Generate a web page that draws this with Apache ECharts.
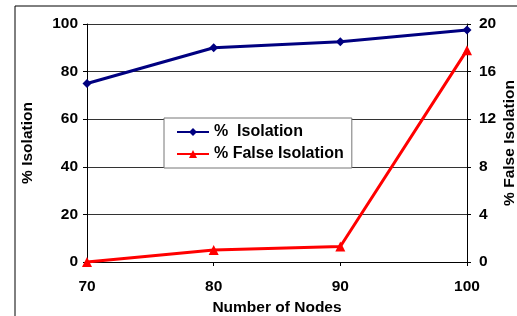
<!DOCTYPE html>
<html>
<head>
<meta charset="utf-8">
<script src="https://cdn.jsdelivr.net/npm/echarts@6/dist/echarts.min.js"></script>
<style>
  html, body { margin: 0; padding: 0; background: #fff; }
  #chart { width: 517px; height: 316px; }
</style>
</head>
<body>
<div id="chart"></div>
<script>
// data
var nodes = [70, 80, 90, 100];
var isolation = [75, 90, 92.5, 97.5];
var falseIsolation = [0, 1, 1.3, 17.8];

var myChart = echarts.init(document.getElementById('chart'));

var font = { fontFamily: 'Liberation Sans, Arial, sans-serif', fontWeight: 'bold', fontSize: 15.5, color: '#000' };

function pairs(xs, ys) {
  return xs.map(function (x, i) { return [x, ys[i]]; });
}

option = {
  backgroundColor: '#fff',
  animation: false,
  graphic: [
    // outer frame (only left and top edges show in the picture)
    { type: 'rect', shape: { x: 15, y: 6, width: 600, height: 400 },
      style: { fill: 'none', stroke: '#000', lineWidth: 1 } }
  ],
  grid: { left: 87, right: 50, top: 24, bottom: 54, outerBoundsMode: 'none' },
  legend: {
    orient: 'vertical',
    left: 164,
    top: 118,
    padding: [6, 8, 6, 12],
    itemGap: 6,
    itemWidth: 32,
    itemHeight: 10,
    backgroundColor: '#fff',
    borderColor: '#777',
    borderWidth: 1,
    textStyle: Object.assign({}, font, { fontSize: 16 }),
    data: ['%  Isolation', '% False Isolation']
  },
  xAxis: {
    type: 'value',
    min: 70,
    max: 100,
    interval: 10,
    name: 'Number of Nodes',
    nameLocation: 'middle',
    nameGap: 38,
    nameTextStyle: font,
    axisLine: { lineStyle: { color: '#000' } },
    axisTick: { show: true, length: 4, lineStyle: { color: '#000' } },
    axisLabel: Object.assign({ margin: 17 }, font),
    splitLine: { show: false }
  },
  yAxis: [
    {
      type: 'value',
      min: 0,
      max: 100,
      interval: 20,
      name: '% Isolation',
      nameLocation: 'middle',
      nameGap: 51,
      nameTextStyle: font,
      axisLine: { show: true, lineStyle: { color: '#000' } },
      axisTick: { show: true, length: 4, lineStyle: { color: '#000' } },
      axisLabel: Object.assign({ margin: 9 }, font),
      splitLine: { show: true, lineStyle: { color: '#333', width: 1 } }
    },
    {
      type: 'value',
      min: 0,
      max: 20,
      interval: 4,
      name: '% False Isolation',
      nameLocation: 'middle',
      nameGap: 35,
      nameRotate: 90,
      nameMoveOverlap: false,
      nameTextStyle: font,
      axisLine: { show: true, lineStyle: { color: '#000' } },
      axisTick: { show: true, length: 4, lineStyle: { color: '#000' } },
      axisLabel: Object.assign({ margin: 12 }, font),
      splitLine: { show: false }
    }
  ],
  series: [
    {
      name: '%  Isolation',
      type: 'line',
      yAxisIndex: 0,
      data: pairs(nodes, isolation),
      symbol: 'diamond',
      symbolSize: 9,
      lineStyle: { color: '#000080', width: 3 },
      itemStyle: { color: '#000080' }
    },
    {
      name: '% False Isolation',
      type: 'line',
      yAxisIndex: 1,
      data: pairs(nodes, falseIsolation),
      symbol: 'triangle',
      symbolSize: 10,
      lineStyle: { color: '#ff0000', width: 3 },
      itemStyle: { color: '#ff0000' }
    }
  ]
};

myChart.setOption(option);
</script>
</body>
</html>
